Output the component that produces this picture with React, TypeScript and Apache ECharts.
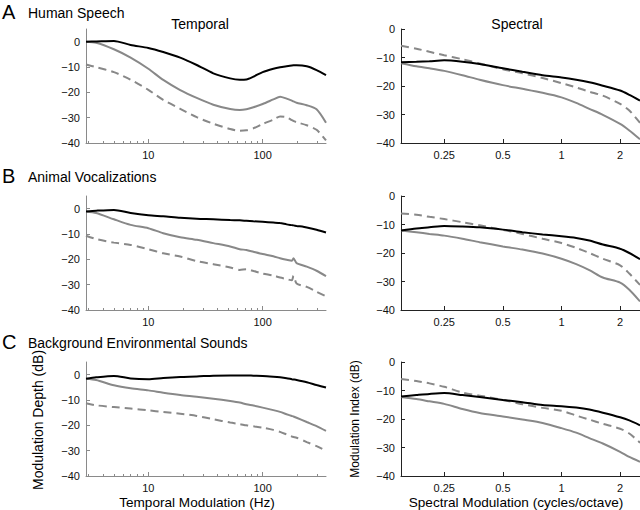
import React, { useEffect, useRef } from 'react';
import * as echarts from 'echarts';

// ---------- data ----------
const temporalHz = [2.85, 3.5, 5, 7, 10, 13.5, 19, 26.5, 37, 52, 63, 72, 83, 100, 124, 142, 162, 180, 186, 198, 243, 296, 358];
const spectralCyc = [0.15, 0.18, 0.21, 0.25, 0.31, 0.38, 0.5, 0.63, 0.8, 1, 1.19, 1.39, 1.63, 2, 2.23, 2.53];

const speechTemporalBlack = [0, 0.1, 0.3, -1.3, -2.5, -4.1, -6.3, -9.2, -12.5, -14.5, -15, -14.9, -13.8, -12, -10.7, -10.1, -9.7, -9.4, -9.35, -9.3, -9.7, -11.2, -13.2];
const speechTemporalGray = [0, -0.4, -3, -6.3, -10.7, -15.1, -19.1, -22.2, -24.9, -26.6, -27, -26.7, -25.9, -24.6, -22.8, -21.7, -22.5, -23.3, -23.6, -24.1, -25.1, -26.7, -32];
const speechTemporalDashed = [-9, -10.1, -12, -15, -19, -23, -26.5, -29.8, -32.4, -34.5, -35.2, -35, -34.2, -32.5, -30.8, -29.5, -29.8, -31, -31.3, -31.8, -33, -34.8, -39];

const animalTemporalBlack = [-1.1, -0.8, -0.5, -1.7, -2.6, -3, -3.6, -4, -4.2, -4.5, -4.6, -4.8, -5, -5.2, -5.5, -5.7, -6.2, -6.5, -6.6, -6.8, -7.4, -8.3, -9.4];
const animalTemporalGray = [-1.1, -1.7, -4.2, -6.4, -7.7, -9.7, -11.3, -12.3, -13.6, -14.9, -16, -16.3, -17, -17.9, -18.8, -19.6, -20.2, -20.6, -19.6, -21.5, -22.9, -24.5, -26.6];
const animalTemporalDashed = [-10.7, -12, -13.4, -14.3, -16, -17.6, -18.9, -20.7, -21.9, -23.2, -24.2, -23.9, -24.6, -25.6, -26.4, -27.2, -27.8, -28.3, -26.5, -29.5, -30.9, -32.8, -34.6];

const envTemporalBlack = [-1.6, -1.05, -0.5, -1.5, -1.8, -1.3, -0.9, -0.7, -0.4, -0.3, -0.3, -0.3, -0.4, -0.5, -0.8, -1.05, -1.4, -1.8, -1.9, -2.1, -3, -4.1, -5.1];
const envTemporalGray = [-1.6, -2.1, -4.2, -5.4, -6.2, -7.1, -8, -8.7, -9.5, -10.4, -11, -11.7, -12.2, -13, -14, -14.7, -15.6, -16.3, -16.5, -17, -18.7, -20.3, -22.2];
const envTemporalDashed = [-11.3, -12.1, -12.8, -13.4, -14.1, -14.7, -15.4, -16.3, -17.6, -18.9, -19.5, -20, -20.4, -20.9, -21.8, -22.6, -23.6, -24.4, -24.6, -24.9, -26.6, -28.2, -30.1];

const speechSpectralBlack = [-11.7, -11.5, -11.3, -11, -11.5, -12.3, -13.8, -15, -16.2, -17, -17.8, -18.7, -19.9, -21.6, -23.1, -25.1];
const speechSpectralGray = [-12, -13.1, -13.8, -14.7, -16.2, -17.8, -19.7, -21, -22.4, -24, -25.9, -28, -30.1, -33.3, -35.6, -38.7];
const speechSpectralDashed = [-5.9, -6.9, -8, -9.2, -10.6, -12.1, -14.1, -15.5, -17.2, -19, -20.5, -22, -23.4, -26.3, -28.6, -32.9];

const animalSpectralBlack = [-12.1, -11.4, -11, -10.5, -10.7, -11, -11.8, -12.7, -13.5, -14.1, -14.7, -15.6, -17, -18.5, -20, -22.2];
const animalSpectralGray = [-12.1, -12.7, -13.3, -13.9, -15, -16.2, -17.7, -18.8, -20.2, -22, -23.9, -26, -28.6, -30.4, -32.9, -37];
const animalSpectralDashed = [-6.1, -6.6, -7.3, -8.1, -9.2, -10.3, -11.9, -13.3, -15, -16.5, -18.2, -20, -22, -24.3, -27.2, -31.2];

const envSpectralBlack = [-12.1, -11.6, -11.2, -10.9, -11.6, -12.3, -13.3, -14.1, -15.1, -15.5, -16, -16.7, -17.8, -19.4, -20.5, -22.2];
const envSpectralGray = [-12.3, -13, -13.8, -14.7, -16.5, -17.9, -19.1, -20.2, -21.4, -23.2, -24.8, -26.7, -28.6, -31.5, -33.3, -35];
const envSpectralDashed = [-6, -6.7, -7.5, -8.7, -10.7, -11.8, -13.3, -14.8, -16.1, -17.1, -18.8, -20.2, -21.7, -23.4, -25.1, -28.3];

const temporalMajorTicks = [10, 100];
const temporalMinorTicks = [3, 4, 5, 6, 7, 8, 9, 20, 30, 40, 50, 60, 70, 80, 90, 200, 300];
const spectralTicks = [0.25, 0.5, 1, 2];
const yTicks = [-40, -30, -20, -10, 0];

const panelLetters = ['A', 'B', 'C'];
const panelTitles = ['Human Speech', 'Animal Vocalizations', 'Background Environmental Sounds'];

// ---------- layout / style ----------
const FONT = '"Liberation Sans", Arial, Helvetica, sans-serif';
const rows = [
  { top: 29, bottom: 143 },
  { top: 196, bottom: 310 },
  { top: 362, bottom: 476 },
];
const LEFT = { left: 86, width: 240 };
const RIGHT = { left: 401, width: 239 };
const T_MIN = 2.85, T_MAX = 358;
const S_MIN = 0.15, S_MAX = 2.53;
const GRAY = '#888888';
const LEFT_AXIS = '#8a8a8a';
const RIGHT_AXIS = '#222222';

const minusFmt = (v: number) => (v < 0 ? '\u2212' + Math.abs(v) : String(v));

export default function App() {
  const ref = useRef<HTMLDivElement>(null);
  useEffect(() => {
    if (!ref.current) return;
    const chart = echarts.init(ref.current, undefined, { renderer: 'svg' });

    const grids: any[] = [];
    const xAxes: any[] = [];
    const yAxes: any[] = [];
    const series: any[] = [];

    const temporalSets = [
      [speechTemporalBlack, speechTemporalGray, speechTemporalDashed],
      [animalTemporalBlack, animalTemporalGray, animalTemporalDashed],
      [envTemporalBlack, envTemporalGray, envTemporalDashed],
    ];
    const spectralSets = [
      [speechSpectralBlack, speechSpectralGray, speechSpectralDashed],
      [animalSpectralBlack, animalSpectralGray, animalSpectralDashed],
      [envSpectralBlack, envSpectralGray, envSpectralDashed],
    ];

    const overlay: any[] = [];

    rows.forEach((r, ri) => {
      [0, 1].forEach((side) => {
        const gi = grids.length;
        const isLeft = side === 0;
        const g = isLeft ? LEFT : RIGHT;
        grids.push({
          left: g.left,
          width: g.width,
          top: r.top,
          height: r.bottom - r.top,
          outerBoundsMode: 'none',
          containLabel: false,
        });
        const axisColor = isLeft ? LEFT_AXIS : RIGHT_AXIS;
        xAxes.push({
          type: 'log',
          logBase: isLeft ? 10 : 2,
          gridIndex: gi,
          position: 'bottom',
          min: isLeft ? T_MIN : S_MIN,
          max: isLeft ? T_MAX : S_MAX,
          axisLine: { show: true, onZero: false, lineStyle: { color: axisColor, width: 1 } },
          axisTick: { show: false },
          splitLine: { show: false },
          minorTick: { show: false },
          axisLabel: {
            show: true,
            showMinLabel: false,
            showMaxLabel: false,
            margin: 6,
            color: '#111',
            fontSize: 11,
            fontFamily: FONT,
          },
        });
        const lg = isLeft ? Math.log10 : Math.log2;
        overlay.push({
          type: 'value',
          gridIndex: gi,
          position: 'bottom',
          min: lg(isLeft ? T_MIN : S_MIN),
          max: lg(isLeft ? T_MAX : S_MAX),
          axisLine: { show: false, onZero: false },
          axisLabel: { show: false },
          splitLine: { show: false },
          axisTick: {
            show: true,
            inside: true,
            length: 4,
            customValues: (isLeft ? temporalMajorTicks : spectralTicks).map(lg),
            lineStyle: { color: axisColor, width: 1 },
          },
        });
        if (isLeft) {
          overlay.push({
            type: 'value',
            gridIndex: gi,
            position: 'bottom',
            min: lg(T_MIN),
            max: lg(T_MAX),
            axisLine: { show: false, onZero: false },
            axisLabel: { show: false },
            splitLine: { show: false },
            axisTick: {
              show: true,
              inside: true,
              length: 2,
              customValues: temporalMinorTicks.map(lg),
              lineStyle: { color: axisColor, width: 1 },
            },
          });
        }
        yAxes.push({
          type: 'value',
          gridIndex: gi,
          min: -40,
          max: isLeft ? 5 : 0,
          axisLine: { show: true, onZero: false, lineStyle: { color: axisColor, width: 1 } },
          axisTick: { show: true, inside: true, length: 4, customValues: yTicks, lineStyle: { color: axisColor } },
          splitLine: { show: false },
          axisLabel: {
            customValues: yTicks,
            formatter: minusFmt,
            margin: 6,
            color: '#111',
            fontSize: 11,
            fontFamily: FONT,
          },
        });
        const xs = isLeft ? temporalHz : spectralCyc;
        const sets = isLeft ? temporalSets[ri] : spectralSets[ri];
        const styles = [
          { color: '#000000', width: 2, type: 'solid' },
          { color: GRAY, width: 2, type: 'solid' },
          { color: GRAY, width: 2, type: [8, 5] },
        ];
        [2, 1, 0].forEach((k) => {
          series.push({
            type: 'line',
            xAxisIndex: gi,
            yAxisIndex: gi,
            data: xs.map((x, i) => [x, sets[k][i]]),
            showSymbol: false,
            symbol: 'none',
            smooth: 0.25,
            lineStyle: styles[k],
            silent: true,
            z: 2 + (2 - k),
          });
        });
      });
    });

    const allX = xAxes.concat(overlay);

    const graphic: any[] = [];
    const letterY = [12, 176, 342];
    rows.forEach((_, ri) => {
      graphic.push({
        type: 'text',
        x: 2,
        y: letterY[ri],
        style: { text: panelLetters[ri], fontSize: 20, fontFamily: FONT, fill: '#000', verticalAlign: 'middle', align: 'left' },
      });
      graphic.push({
        type: 'text',
        x: 28,
        y: letterY[ri] + 1,
        style: { text: panelTitles[ri], fontSize: 14, fontFamily: FONT, fill: '#000', verticalAlign: 'middle', align: 'left' },
      });
    });
    graphic.push({
      type: 'text', x: 200, y: 24,
      style: { text: 'Temporal', fontSize: 14, fontFamily: FONT, fill: '#000', align: 'center', verticalAlign: 'middle' },
    });
    graphic.push({
      type: 'text', x: 517, y: 24,
      style: { text: 'Spectral', fontSize: 14, fontFamily: FONT, fill: '#000', align: 'center', verticalAlign: 'middle' },
    });
    graphic.push({
      type: 'text', x: 38, y: 420, rotation: Math.PI / 2,
      style: { text: 'Modulation Depth (dB)', fontSize: 14, fontFamily: FONT, fill: '#000', align: 'center', verticalAlign: 'middle' },
    });
    graphic.push({
      type: 'text', x: 355, y: 419, rotation: Math.PI / 2,
      style: { text: 'Modulation Index (dB)', fontSize: 12, fontFamily: FONT, fill: '#000', align: 'center', verticalAlign: 'middle' },
    });
    graphic.push({
      type: 'text', x: 197, y: 502,
      style: { text: 'Temporal Modulation (Hz)', fontSize: 13.6, fontFamily: FONT, fill: '#000', align: 'center', verticalAlign: 'middle' },
    });
    graphic.push({
      type: 'text', x: 516, y: 502,
      style: { text: 'Spectral Modulation (cycles/octave)', fontSize: 13.6, fontFamily: FONT, fill: '#000', align: 'center', verticalAlign: 'middle' },
    });

    chart.setOption({
      animation: false,
      backgroundColor: '#ffffff',
      grid: grids,
      xAxis: allX,
      yAxis: yAxes,
      series,
      graphic,
    });
    return () => chart.dispose();
  }, []);

  return (
    <div
      ref={ref}
      style={{ position: 'absolute', left: 0, top: 0, width: 640, height: 510, background: '#fff' }}
    />
  );
}
